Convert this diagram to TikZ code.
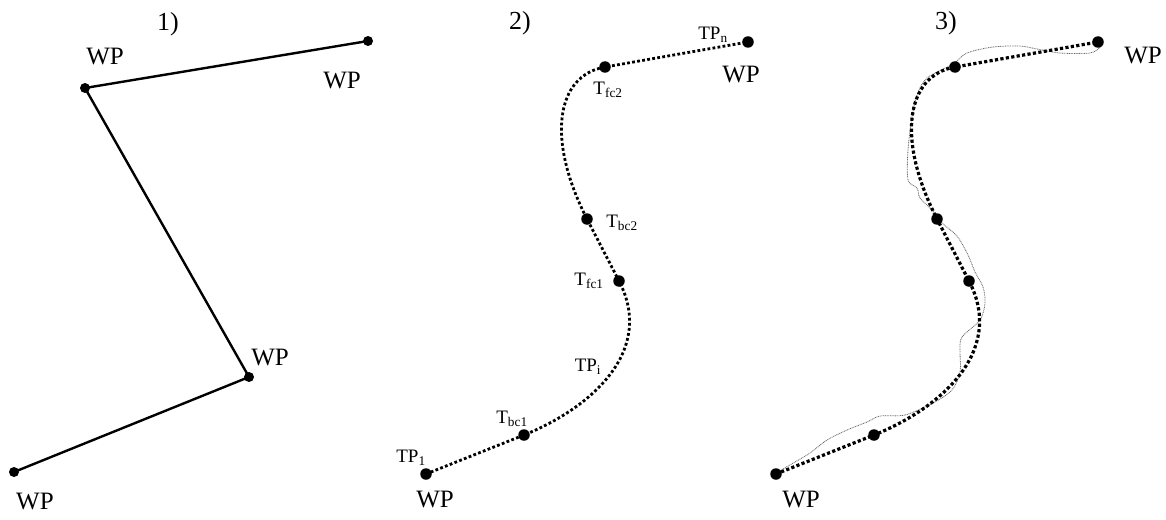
\documentclass[tikz,border=0pt]{standalone}
\usepackage{fontspec}
\setmainfont{Liberation Serif}
\usetikzlibrary{calc}
\tikzset{
  wpdot/.style  ={circle,draw=none,fill=black,inner sep=0pt,minimum size=10pt},
  tpdot/.style  ={circle,draw=none,fill=black,inner sep=0pt,minimum size=11.5pt},
  wpline/.style ={line width=2.4pt},
  tpline/.style ={line width=#1,dash pattern=on #1 off 2.3pt},
  trline/.style ={line width=0.8pt,black!60,dash pattern=on 0.9pt off 0.8pt},
  numlab/.style ={inner sep=1pt,font=\fontsize{26}{28}\selectfont},
  wplab/.style  ={inner sep=1pt,font=\fontsize{25}{27}\selectfont},
  tlab/.style   ={inner sep=1pt,font=\fontsize{19}{21}\selectfont},
}
\pgfdeclarelayer{trback}
\pgfsetlayers{trback,main}
% dots and dotted reference curve of one smoothed path, shifted by #2
\newcommand{\trajpath}[3]{%
  \node[tpdot] (#1s)  at (426+#2,474) {};
  \node[tpdot] (#1b1) at (524+#2,435) {};
  \node[tpdot] (#1f1) at (619+#2,281) {};
  \node[tpdot] (#1b2) at (587+#2,219) {};
  \node[tpdot] (#1f2) at (605+#2,67) {};
  \node[tpdot] (#1e)  at (748+#2,42) {};
  \draw[tpline=#3] (#1s.center) -- (#1b1.center)
    .. controls +(65,-26) and +(37,71) .. (#1f1.center) -- (#1b2.center)
    .. controls +(-41,-80) and +(-49,8.5) .. (#1f2.center) -- (#1e.center);
}

\begin{document}
\begin{tikzpicture}[x=1pt,y=-1pt]
  \useasboundingbox (0,0) rectangle (1166,519);
  % 1) way points
  \node[numlab] (n1) at (168,24) {1)};
  \node[wpdot] (w1) at (14,472) {};
  \node[wpdot] (w2) at (249,377) {};
  \node[wpdot] (w3) at (85,88) {};
  \node[wpdot] (w4) at (368,41) {};
  \draw[wpline] (w1.center) -- (w2.center) -- (w3.center) -- (w4.center);
  \node[wplab] at (35,501) {WP};
  \node[wplab] at (270,357) {WP};
  \node[wplab] at (105,57) {WP};
  \node[wplab] at (342,81) {WP};
  % 2) smoothed path
  \node[numlab] (n2) at (520,23) {2)};
  \trajpath{B}{0}{2.8pt}
  \node[tlab] at (411,458) {TP\textsubscript{1}};
  \node[tlab] at (512,419) {T\textsubscript{bc1}};
  \node[tlab] at (588,367) {TP\textsubscript{i}};
  \node[tlab] at (589,281) {T\textsubscript{fc1}};
  \node[tlab] at (622,223) {T\textsubscript{bc2}};
  \node[tlab] at (608,90) {T\textsubscript{fc2}};
  \node[tlab] at (713,35) {TP\textsubscript{n}};
  \node[wplab] at (435,499) {WP};
  \node[wplab] at (741,75) {WP};
  % 3) smoothed path and flown path
  \node[numlab] (n3) at (946,23) {3)};
  \trajpath{C}{350}{3.2pt}
  \begin{pgfonlayer}{trback}
    \draw[trline] plot[smooth,tension=0.5] coordinates {
      (776,473) (795,462) (810,453) (827,440) (847,430) (867,422) (880,416)
      (905,415) (933,403) (952,390) (960,372) (960,350) (962,337) (980,320)
      (985,303) (983,287) (975,272) (968,255) (957,236) (942,223) (932,210)
      (920,198) (917,188) (908,180) (908,150) (912,117) (917,95) (927,78)
      (953,64) (967,53) (993,47) (1020,46) (1037,49) (1060,53) (1090,53)
      (1100,47) (1099,41)};
  \end{pgfonlayer}
  \node[wplab] at (801,499) {WP};
  \node[wplab] at (1143,56) {WP};
\end{tikzpicture}
\end{document}
